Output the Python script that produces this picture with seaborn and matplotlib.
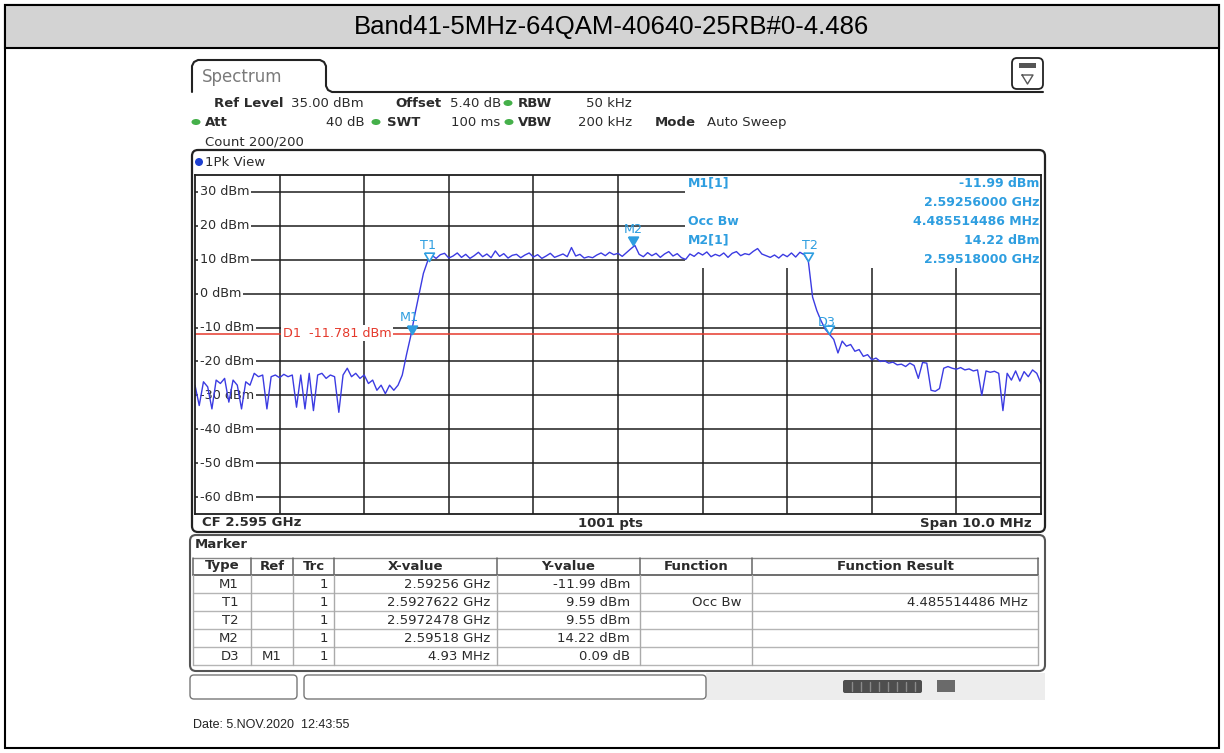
import numpy as np
import pandas as pd
import matplotlib
matplotlib.use("Agg")
import matplotlib.pyplot as plt
from matplotlib.patches import FancyBboxPatch, Rectangle, Ellipse, Circle
import seaborn as sns

# ---- values ----
title = "Band41-5MHz-64QAM-40640-25RB#0-4.486"
date_text = "Date: 5.NOV.2020  12:43:55"

f_start = 2.590   # GHz
f_stop = 2.600    # GHz
ref_level = 35.0  # dBm
bottom_level = -65.0
display_line = -11.781  # D1, dBm

# trace, dBm, one reading every 50 kHz from 2.590 to 2.600 GHz
trace_levels = [
    -27, -33, -26, -27.5, -34, -25.5, -26.5, -25, -32, -25.5,
    -27, -34, -26, -27, -23.5, -24.5, -24, -34, -24.5, -24,
    -24.8, -23.8, -24.5, -24, -33.5, -24, -34, -23.5, -34.5, -24,
    -23.5, -25, -24, -24.5, -35, -24, -22, -24.5, -23.5, -25,
    -24, -26.5, -25.5, -28.5, -27, -29.5, -27, -28.5,
    -27, -24, -18, -12.5, -6, 0, 6, 9.6,
    11.3, 10.4, 11.5, 11.9, 10.5, 11.1, 12.0, 10.7, 11.6, 10.4,
    11.2, 12.2, 10.9, 11.7, 10.6, 12.6, 11.0, 11.8, 10.5, 11.3,
    11.6, 10.6, 11.4, 12.0, 10.8, 11.5, 10.4, 11.1, 11.9, 10.7,
    11.2, 11.7, 10.9, 13.6, 11.1, 11.6, 10.5, 10.9, 10.6, 11.4,
    12.0, 11.2, 12.2, 11.5, 11.9, 11.0, 12.1, 13.2, 14.22, 11.6,
    10.9, 12.1, 11.2, 11.9, 10.7, 11.7, 12.4, 11.1, 11.8, 10.6,
    10.1, 11.7, 11.0, 12.1, 11.4, 12.3, 10.9, 11.6, 11.1, 12.0,
    10.7, 11.9, 12.4, 11.2, 11.8, 11.5, 12.5, 13.3, 11.7, 11.2,
    10.7, 11.4, 10.5, 11.6, 10.9, 12.0, 10.8, 12.2, 11.5,
    9.55, -1, -5, -8, -10.5, -12, -13.5, -17.5, -14, -15.5,
    -15, -17, -16.5, -18.5, -18, -19.5, -19, -20, -19.8, -20.5,
    -20.2, -21, -20.8, -21.5, -20.5, -21.2, -25, -20.3, -20.5, -28.5,
    -28.8, -28, -22, -21.5, -22, -22.3, -21.8, -22.5, -22.2, -22.8,
    -22.5, -30, -22.8, -23.2, -22.9, -23.5, -34.5, -23.5, -25.5, -22.8,
    -25.8, -23, -24.5, -22.5, -23.5, -26.5,
]

y_grid = [30, 20, 10, 0, -10, -20, -30, -40, -50, -60]
f_grid = [2.591, 2.592, 2.593, 2.594, 2.595, 2.596, 2.597, 2.598, 2.599]

m1_freq, m1_level = 2.59256, -11.99
t1_freq, t1_level = 2.5927622, 9.59
t2_freq, t2_level = 2.5972478, 9.55
m2_freq, m2_level = 2.59518, 14.22
d3_delta_mhz, d3_delta_db = 4.93, 0.09
occ_bw = "4.485514486 MHz"

# marker table
tbl_type = ["M1", "T1", "T2", "M2", "D3"]
tbl_ref = ["", "", "", "", "M1"]
tbl_trc = ["1", "1", "1", "1", "1"]
tbl_x = ["2.59256 GHz", "2.5927622 GHz", "2.5972478 GHz", "2.59518 GHz", "4.93 MHz"]
tbl_y = ["-11.99 dBm", "9.59 dBm", "9.55 dBm", "14.22 dBm", "0.09 dB"]
tbl_func = ["", "Occ Bw", "", "", ""]
tbl_res = ["", occ_bw, "", "", ""]
tbl_head = ["Type", "Ref", "Trc", "X-value", "Y-value", "Function", "Function Result"]

# ---- drawing ----
sns.set_style("white")
plt.rcParams["font.family"] = ["DejaVu Sans"]

W, H = 1224, 753
fig = plt.figure(figsize=(W / 100, H / 100), dpi=100)
bg = fig.add_axes([0, 0, 1, 1])
bg.set_xlim(0, W)
bg.set_ylim(H, 0)
bg.axis("off")

ink = "#2b2b2b"
cyan = "#2e9ee0"
fs = 9.5

# page frame and title band
bg.add_patch(Rectangle((5, 5), W - 10, H - 10, fill=False, ec="black", lw=1.5))
bg.add_patch(Rectangle((5, 5), W - 10, 43, fc="#d3d3d3", ec="black", lw=1.5))
bg.text(W / 2, 27, title, ha="center", va="center", fontsize=18.5,
        family="Liberation Sans", color="black")

# tab and top bar of the instrument screen
bg.plot([192, 192, 194, 198, 320, 324, 326, 326, 328, 332, 1043],
        [92, 66, 62, 60, 60, 62, 66, 86, 90, 92, 92], color="#222", lw=1.5)
bg.text(202, 77, "Spectrum", fontsize=12, color="#7a7a7a", va="center")
bg.add_patch(FancyBboxPatch((1012, 58), 31, 31, boxstyle="round,pad=0,rounding_size=5",
                            fc="white", ec="#222", lw=1.3))
bg.add_patch(Rectangle((1019, 63), 17, 5, fc="#555", ec="none"))
bg.plot([1022, 1033, 1027.5, 1022], [75, 75, 84, 75], color="#555", lw=1)

# settings header
def lab(x, y, s, bold=False, ha="left"):
    bg.text(x, y, s, fontsize=fs, color=ink, va="center", ha=ha,
            fontweight="bold" if bold else "normal")

lab(214, 103, "Ref Level", True)
lab(291, 103, "35.00 dBm")
lab(395, 103, "Offset", True)
lab(450, 103, "5.40 dB")
lab(518, 103, "RBW", True)
lab(632, 103, "50 kHz", ha="right")
lab(205, 122, "Att", True)
lab(365, 122, "40 dB", ha="right")
lab(387, 122, "SWT", True)
lab(500, 122, "100 ms", ha="right")
lab(518, 122, "VBW", True)
lab(632, 122, "200 kHz", ha="right")
lab(655, 122, "Mode", True)
lab(707, 122, "Auto Sweep")
lab(205, 142, "Count 200/200")
for gx, gy in [(508, 103), (196, 122), (376, 122), (509, 122)]:
    bg.add_patch(Ellipse((gx, gy), 9, 6, fc="#45b04a", ec="none"))

# trace panel
bg.add_patch(FancyBboxPatch((192, 150), 853, 382, boxstyle="round,pad=0,rounding_size=6",
                            fc="white", ec="#222", lw=1.6))
bg.add_patch(Circle((199, 162), 4, fc="#1d3fd0", ec="none"))
bg.text(205, 162, "1Pk View", fontsize=fs, color=ink, va="center")
bg.text(202, 523, "CF 2.595 GHz", fontsize=fs, color=ink, va="center", fontweight="bold")
bg.text(610, 523, "1001 pts", fontsize=fs, color=ink, va="center", ha="center", fontweight="bold")
bg.text(1032, 523, "Span 10.0 MHz", fontsize=fs, color=ink, va="center", ha="right",
        fontweight="bold")

L, R, TOP, BOT = 195, 1041, 175, 514
ax = fig.add_axes([L / W, 1 - BOT / H, (R - L) / W, (BOT - TOP) / H])
ax.set_zorder(1)
ax.set_facecolor("white")

for f in f_grid:
    ax.axvline(f, color="#1e1e1e", lw=1.1, zorder=1)
for v in y_grid:
    ax.axhline(v, color="#1e1e1e", lw=1.1, zorder=1)
    ax.text(f_start + 0.00006, v, f"{v} dBm", fontsize=9.2, color=ink, va="center",
            ha="left", zorder=2, bbox=dict(fc="white", ec="none", pad=1.2))

# marker readout area masks the grid in the upper right
x0 = f_start + (685 - L) / (R - L) * (f_stop - f_start)
y0 = ref_level - (268 - TOP) / (BOT - TOP) * (ref_level - bottom_level)
ax.add_patch(Rectangle((x0, y0), f_stop - x0, ref_level - y0, fc="white", ec="none", zorder=2))

# display line D1
ax.axhline(display_line, color="#e5392c", lw=1.1, zorder=2.5)
ax.text(283, 333, f"D1  {display_line:.3f} dBm", transform=bg.transData, fontsize=9.2,
        color="#e5392c", va="center", zorder=2.6, bbox=dict(fc="white", ec="none", pad=1.2))

freqs = np.linspace(f_start, f_stop, len(trace_levels))
trace = pd.DataFrame({"freq": freqs, "level": trace_levels})
sns.lineplot(data=trace, x="freq", y="level", ax=ax, color="#3b3be2", lw=1.0,
             estimator=None, sort=False, zorder=3)

# markers: triangle with its tip on the trace point
tri = [(-1, 1.7), (1, 1.7), (0, 0), (-1, 1.7)]
d3_freq = m1_freq + d3_delta_mhz / 1000
d3_level = m1_level + d3_delta_db
mk = [("M1", m1_freq, m1_level, True, (-2, 17)),
      ("T1", t1_freq, t1_level, False, (-1, 16)),
      ("M2", m2_freq, m2_level, True, (0, 16)),
      ("T2", t2_freq, t2_level, False, (2, 16)),
      ("D3", d3_freq, d3_level, False, (-2, 11))]
for name, f, v, filled, off in mk:
    ax.plot([f], [v], marker=tri, markersize=12, color=cyan,
            mfc=cyan if filled else "white", mec=cyan, mew=1.2, zorder=4, ls="none")
    ax.annotate(name, (f, v), xytext=off, textcoords="offset pixels", ha="center",
                va="center", fontsize=9.2, color=cyan, zorder=4)

# marker readout text
info_left = [("M1[1]", 183), ("Occ Bw", 221), ("M2[1]", 240)]
info_right = [(f"{m1_level:.2f} dBm", 183), (f"{m1_freq:.8f} GHz", 202), (occ_bw, 221),
              (f"{m2_level:.2f} dBm", 240), (f"{m2_freq:.8f} GHz", 259)]
for s, y in info_left:
    ax.text(688, y, s, transform=bg.transData, fontsize=9, color=cyan, fontweight="bold",
            va="center", zorder=5)
for s, y in info_right:
    ax.text(1039, y, s, transform=bg.transData, fontsize=9, color=cyan, fontweight="bold",
            va="center", ha="right", zorder=5)

ax.set_xlim(f_start, f_stop)
ax.set_ylim(bottom_level, ref_level)
ax.set_xticks([])
ax.set_yticks([])
ax.set_xlabel("")
ax.set_ylabel("")
for sp in ax.spines.values():
    sp.set_color("#1e1e1e")
    sp.set_linewidth(1.3)
    sp.set_zorder(6)

# marker table panel
bg.add_patch(FancyBboxPatch((190, 535), 855, 136, boxstyle="round,pad=0,rounding_size=6",
                            fc="white", ec="#555", lw=1.5))
bg.text(195, 545, "Marker", fontsize=fs, color=ink, va="center", fontweight="bold")
cols = [193, 251, 293, 334, 497, 640, 752, 1038]
rows_y = [584, 602, 620, 638, 656]
bg.plot([193, 1038], [558, 558], color="#888", lw=1)
bg.plot([193, 1038], [575, 575], color="#555", lw=1.2)
for yl in [593, 611, 629, 647, 665]:
    bg.plot([193, 1038], [yl, yl], color="#b5b5b5", lw=1)
for i, cx in enumerate(cols):
    bg.plot([cx, cx], [558, 575], color="#666", lw=1.1)
    bg.plot([cx, cx], [575, 665], color="#aaa", lw=1)
for i, h in enumerate(tbl_head):
    bg.text((cols[i] + cols[i + 1]) / 2, 566, h, fontsize=fs, color=ink, ha="center",
            va="center", fontweight="bold")
right_edges = [239, 282, 328, 490, 630, 742, 1028]
for r, y in enumerate(rows_y):
    vals = [tbl_type[r], tbl_ref[r], tbl_trc[r], tbl_x[r], tbl_y[r], tbl_func[r], tbl_res[r]]
    for c, s in enumerate(vals):
        bg.text(right_edges[c], y, s, fontsize=fs, color=ink, ha="right", va="center")

# status bar
bg.add_patch(Rectangle((706, 673), 339, 27, fc="#ededed", ec="none"))
bg.add_patch(FancyBboxPatch((190, 675), 107, 24, boxstyle="round,pad=0,rounding_size=4",
                            fc="white", ec="#777", lw=1))
bg.add_patch(FancyBboxPatch((304, 675), 402, 24, boxstyle="round,pad=0,rounding_size=4",
                            fc="white", ec="#777", lw=1))
bg.add_patch(FancyBboxPatch((843, 680), 79, 13, boxstyle="round,pad=0,rounding_size=2",
                            fc="#4e4e4e", ec="none"))
for sx in range(852, 918, 9):
    bg.plot([sx, sx], [682, 691], color="#8a8a8a", lw=1)
bg.add_patch(Rectangle((937, 680), 18, 12, fc="#6a6a6a", ec="none"))

bg.text(193, 725, date_text, fontsize=9, family="Liberation Sans", color="#222", va="center")

fig.savefig("out.png", dpi=100)
